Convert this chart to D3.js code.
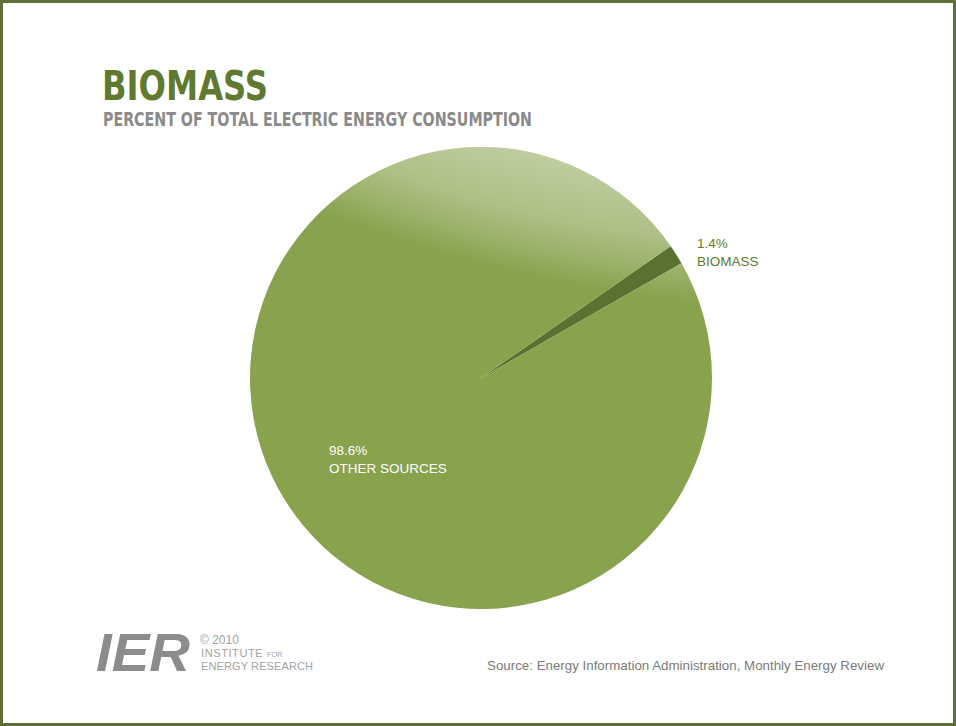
<!DOCTYPE html>
<html>
<head>
<meta charset="utf-8">
<script src="https://cdn.jsdelivr.net/npm/d3@7"></script>
<style>
  body { margin: 0; background: #fff; }
  svg { display: block; }
</style>
</head>
<body>
<script>
//Declare consts/global variables
    const width = 956;
    const height = 726;

//Data
    const categories = ["BIOMASS", "OTHER SOURCES"];
    const shares = [1.4, 98.6];
    const shareLabels = ["1.4%", "98.6%"];

//SVG
    const svg = d3.select("body")
                .append("svg")
                .attr("width", width)
                .attr("height", height);

    //frame
    svg.append("rect")
        .attr("x", 1.5).attr("y", 1.5)
        .attr("width", width - 3).attr("height", height - 3)
        .attr("fill", "#fff")
        .attr("stroke", "#5f6f35")
        .attr("stroke-width", 3);

//Titles - condensed look, squeezed to the reference widths
    svg.append("text")
        .attr("x", 102).attr("y", 100)
        .attr("font-family", "'DejaVu Sans Condensed', 'DejaVu Sans', sans-serif")
        .attr("font-weight", "bold")
        .attr("font-size", 41)
        .attr("textLength", 166)
        .attr("lengthAdjust", "spacingAndGlyphs")
        .attr("fill", "#5f7a2f")
        .text("BIOMASS");

    svg.append("text")
        .attr("x", 103).attr("y", 126)
        .attr("font-family", "'DejaVu Sans Condensed', 'DejaVu Sans', sans-serif")
        .attr("font-weight", "bold")
        .attr("font-size", 19)
        .attr("textLength", 429)
        .attr("lengthAdjust", "spacingAndGlyphs")
        .attr("fill", "#8a8a8a")
        .text("PERCENT OF TOTAL ELECTRIC ENERGY CONSUMPTION");

//Pie
    const cx = 481, cy = 378, radius = 231;

    const defs = svg.append("defs");
    //tilted elliptical sheen over the upper part of the pie
    //(coords are relative to the pie centre since the path sits in the shifted group)
    const grad = defs.append("radialGradient")
        .attr("id", "shine")
        .attr("gradientUnits", "userSpaceOnUse")
        .attr("cx", 0).attr("cy", 0).attr("r", 1)
        .attr("gradientTransform", "translate(" + (555 - cx) + "," + (30 - cy) + ") rotate(14) scale(600,245)");
    grad.append("stop").attr("offset", "0%").attr("stop-color", "#fff").attr("stop-opacity", 0.6);
    grad.append("stop").attr("offset", "45%").attr("stop-color", "#fff").attr("stop-opacity", 0.5);
    grad.append("stop").attr("offset", "75%").attr("stop-color", "#fff").attr("stop-opacity", 0.32);
    grad.append("stop").attr("offset", "90%").attr("stop-color", "#fff").attr("stop-opacity", 0.14);
    grad.append("stop").attr("offset", "100%").attr("stop-color", "#fff").attr("stop-opacity", 0);

    const pie = d3.pie()
        .sort(null)
        .startAngle(55.2 * Math.PI / 180)
        .endAngle(55.2 * Math.PI / 180 + 2 * Math.PI);

    const arc = d3.arc().innerRadius(0).outerRadius(radius);

    const colors = d3.scaleOrdinal()
        .domain(categories)
        .range(["#5b7131", "#88a24d"]);

    const g = svg.append("g")
        .attr("transform", "translate(" + cx + "," + cy + ")");

    const arcs = pie(shares);

    g.selectAll("path.slice")
        .data(arcs)
        .enter()
        .append("path")
        .attr("class", "slice")
        .attr("d", arc)
        .attr("fill", (d, i) => colors(categories[i]));

    //sheen only on the big slice
    g.append("path")
        .attr("d", arc(arcs[1]))
        .attr("fill", "url(#shine)");

//Labels
    const labelPos = [[697, 248], [329, 455]];
    const labelColor = ["#5f7a2f", "#ffffff"];

    categories.forEach((c, i) => {
        const t = svg.append("text")
            .attr("x", labelPos[i][0]).attr("y", labelPos[i][1])
            .attr("font-family", "'Liberation Sans', Arial, sans-serif")
            .attr("font-size", 13.5)
            .attr("fill", labelColor[i]);
        t.append("tspan").attr("x", labelPos[i][0]).text(shareLabels[i]);
        t.append("tspan").attr("x", labelPos[i][0]).attr("dy", 18).text(c);
    });

//Source
    svg.append("text")
        .attr("x", 487).attr("y", 670)
        .attr("font-family", "'Liberation Sans', Arial, sans-serif")
        .attr("font-size", 13.3)
        .attr("textLength", 397)
        .attr("fill", "#7a7a7a")
        .text("Source: Energy Information Administration, Monthly Energy Review");

//Logo
    svg.append("text")
        .attr("x", 96).attr("y", 671)
        .attr("font-family", "'Liberation Sans', Arial, sans-serif")
        .attr("font-weight", "bold")
        .attr("font-style", "italic")
        .attr("font-size", 54)
        .attr("textLength", 94)
        .attr("lengthAdjust", "spacingAndGlyphs")
        .attr("fill", "#8c8c8c")
        .text("IER");

    const logoText = svg.append("g")
        .attr("font-family", "'Liberation Sans', Arial, sans-serif")
        .attr("fill", "#a3a3a3");
    logoText.append("text").attr("x", 200).attr("y", 644).attr("font-size", 12).text("© 2010");
    const inst = logoText.append("text").attr("x", 201).attr("y", 657).attr("font-size", 11);
    inst.append("tspan").attr("letter-spacing", 0.6).text("INSTITUTE ");
    inst.append("tspan").attr("font-size", 7.5).text("FOR");
    logoText.append("text").attr("x", 201).attr("y", 670).attr("font-size", 11)
        .attr("textLength", 112)
        .text("ENERGY RESEARCH");
</script>
</body>
</html>
